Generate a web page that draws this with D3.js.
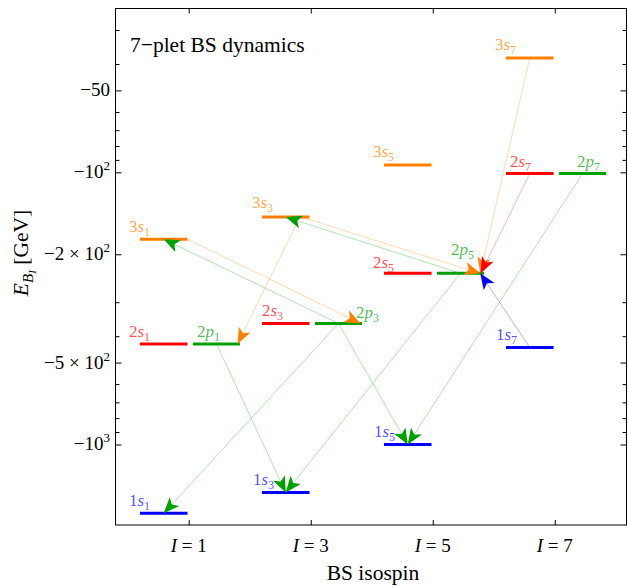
<!DOCTYPE html>
<html><head><meta charset="utf-8">
<script src="https://cdn.jsdelivr.net/npm/d3@7"></script>
<style>
body{margin:0;background:#fff}
svg{display:block}
text{font-family:"Liberation Serif","Times New Roman",serif}
</style>
</head><body><svg id="c" width="628" height="586"></svg>
<script>
// ---------------- data ----------------
const isospins = [1, 3, 5, 7];
const xTickLabels = ["1", "3", "5", "7"];
const yMajorTicks = [-50, -100, -200, -500, -1000];
const yMajorLabelBase = ["−50", "−10", "−2 × 10", "−5 × 10", "−10"];
const yMajorLabelExp = ["", "2", "2", "2", "3"];
const yMinorTicks = [-30, -40, -60, -70, -80, -90, -300, -400, -600, -700, -800, -900];

const levelNames = ["1s1","2s1","2p1","3s1","1s3","2s3","2p3","3s3","1s5","2s5","2p5","3s5","1s7","2s7","2p7","3s7"];
const levelN = [1,2,2,3, 1,2,2,3, 1,2,2,3, 1,2,2,3];
const levelL = ["s","s","p","s", "s","s","p","s", "s","s","p","s", "s","s","p","s"];
const levelI = [1,1,1,1, 3,3,3,3, 5,5,5,5, 7,7,7,7];
const levelE = [-1790,-427,-427,-176, -1500,-359,-359,-146, -1000,-235,-235,-94, -440,-101,-101,-38];

const arrowFrom = ["3s1","2p3","3s3","3s3","2p5","2p3","2p3","2p1","2p5","2p7","3s7","2s7","1s7"];
const arrowTo   = ["2p3","3s1","2p1","2p5","3s3","1s1","1s5","1s3","1s3","1s5","2p5","2p5","2p5"];

// ---------------- layout / style ----------------
const arrowStartFrac = [1.0,0.5,0.8,0.83,0.5,0.5,0.5,0.5,0.5,0.5,0.5,0.5,0.5];
const arrowEndFrac   = [0.97,0.5,0.95,0.92,0.5,0.5,0.5,0.5,0.5,0.5,0.92,0.93,0.92];
const labelDx = [-11,-11,4,-11, -9,0,41,-10, -10,-11,14,-11, -10,4,18,-11];
const labelDy = [-7,-7,-7,-7, -7,-7,-5,-9, -7,-5,-18,-8, -7,-7,-7,-8];
const colorOf = {"1s":"#0000ff","2s":"#ff0000","2p":"#00a000","3s":"#ff8000"};

const svg = d3.select("#c");
const L = 115.5, R = 626.5, T = 8.5, B = 525;
const x = d3.scaleLinear().domain([-0.2, 8.2]).range([115.5, 628]);
const y = d3.scaleLog().domain([-24.9, -1976]).range([8, 525]);

const barExt = l => l === "s" ? [-0.8, -0.02] : [0.07, 0.84];
const lv = {};
levelNames.forEach((nm, i) => {
  const e = barExt(levelL[i]);
  lv[nm] = {x0: x(levelI[i] + e[0]), x1: x(levelI[i] + e[1]), y: y(levelE[i]),
            col: colorOf[levelN[i] + levelL[i]], i};
});

// arrows (lines first)
const gA = svg.append("g");
arrowFrom.forEach((f, k) => {
  const a = lv[f], b = lv[arrowTo[k]];
  const x1 = a.x0 + (a.x1 - a.x0) * arrowStartFrac[k], y1 = a.y;
  const x2 = b.x0 + (b.x1 - b.x0) * arrowEndFrac[k], y2 = b.y;
  gA.append("line").attr("x1", x1).attr("y1", y1).attr("x2", x2).attr("y2", y2)
    .attr("stroke", a.col).attr("stroke-opacity", 0.3).attr("stroke-width", 1);
});

// bars
levelNames.forEach(nm => {
  const d = lv[nm];
  svg.append("line").attr("x1", d.x0).attr("x2", d.x1).attr("y1", d.y).attr("y2", d.y)
    .attr("stroke", d.col).attr("stroke-width", 3);
});

// arrowheads
arrowFrom.forEach((f, k) => {
  const a = lv[f], b = lv[arrowTo[k]];
  const x1 = a.x0 + (a.x1 - a.x0) * arrowStartFrac[k], y1 = a.y;
  const x2 = b.x0 + (b.x1 - b.x0) * arrowEndFrac[k], y2 = b.y;
  const ang = Math.atan2(y2 - y1, x2 - x1) * 180 / Math.PI;
  svg.append("path").attr("d", "M0,0 L-16,-6.5 L-12,0 L-16,6.5 Z")
    .attr("fill", a.col)
    .attr("transform", `translate(${x2},${y2}) rotate(${ang})`);
});

// level labels
levelNames.forEach(nm => {
  const d = lv[nm], i = d.i;
  const t = svg.append("text").attr("x", d.x0 + labelDx[i]).attr("y", d.y + labelDy[i])
    .attr("font-size", 17).attr("fill", d.col).attr("fill-opacity", 0.7);
  t.append("tspan").text(levelN[i]);
  t.append("tspan").attr("font-style", "italic").text(levelL[i]);
  t.append("tspan").attr("font-size", 12).attr("dy", 4).text(levelI[i]);
});

// frame
svg.append("rect").attr("x", L).attr("y", T).attr("width", R - L).attr("height", B - T)
  .attr("fill", "none").attr("stroke", "#000").attr("stroke-width", 1);

// y ticks (left & right, inward)
const gyl = svg.append("g").attr("transform", `translate(${L},0)`)
  .call(d3.axisLeft(y).tickValues(yMajorTicks).tickSize(-6).tickFormat(""));
const gylm = svg.append("g").attr("transform", `translate(${L},0)`)
  .call(d3.axisLeft(y).tickValues(yMinorTicks).tickSize(-4).tickFormat(""));
const gyr = svg.append("g").attr("transform", `translate(${R},0)`)
  .call(d3.axisRight(y).tickValues(yMajorTicks).tickSize(-6).tickFormat(""));
const gyrm = svg.append("g").attr("transform", `translate(${R},0)`)
  .call(d3.axisRight(y).tickValues(yMinorTicks).tickSize(-4).tickFormat(""));
const gxb = svg.append("g").attr("transform", `translate(0,${B})`)
  .call(d3.axisBottom(x).tickValues(isospins).tickSize(-5).tickFormat(""));
const gxt = svg.append("g").attr("transform", `translate(0,${T})`)
  .call(d3.axisTop(x).tickValues(isospins).tickSize(-5).tickFormat(""));
[gyl, gylm, gyr, gyrm, gxb, gxt].forEach(g => {
  g.select(".domain").remove();
  g.selectAll("line").attr("stroke", "#000").attr("stroke-width", 1);
});

// y tick labels
yMajorTicks.forEach((v, k) => {
  const t = svg.append("text").attr("x", 110).attr("y", y(v) + 6)
    .attr("text-anchor", "end").attr("font-size", 19);
  t.append("tspan").text(yMajorLabelBase[k]);
  if (yMajorLabelExp[k]) t.append("tspan").attr("font-size", 13).attr("dy", -8).text(yMajorLabelExp[k]);
});

// x tick labels
isospins.forEach((v, k) => {
  const t = svg.append("text").attr("x", x(v)).attr("y", 552)
    .attr("text-anchor", "middle").attr("font-size", 19);
  t.append("tspan").attr("font-style", "italic").text("I");
  t.append("tspan").text(" = " + xTickLabels[k]);
});

// axis titles
svg.append("text").attr("x", 373).attr("y", 580).attr("text-anchor", "middle")
  .attr("font-size", 21.5).text("BS isospin");
const yt = svg.append("text").attr("transform", "translate(28,253) rotate(-90)")
  .attr("text-anchor", "middle").attr("font-size", 21.5);
yt.append("tspan").attr("font-style", "italic").text("E");
yt.append("tspan").attr("font-style", "italic").attr("font-size", 15).attr("dy", 5).text("B");
yt.append("tspan").attr("font-style", "italic").attr("font-size", 11).attr("dy", 3).text("I");
yt.append("tspan").attr("dy", -8).text(" [GeV]");

// title
svg.append("text").attr("x", 130).attr("y", 52).attr("font-size", 21.5).text("7−plet BS dynamics");
</script>
</body></html>
